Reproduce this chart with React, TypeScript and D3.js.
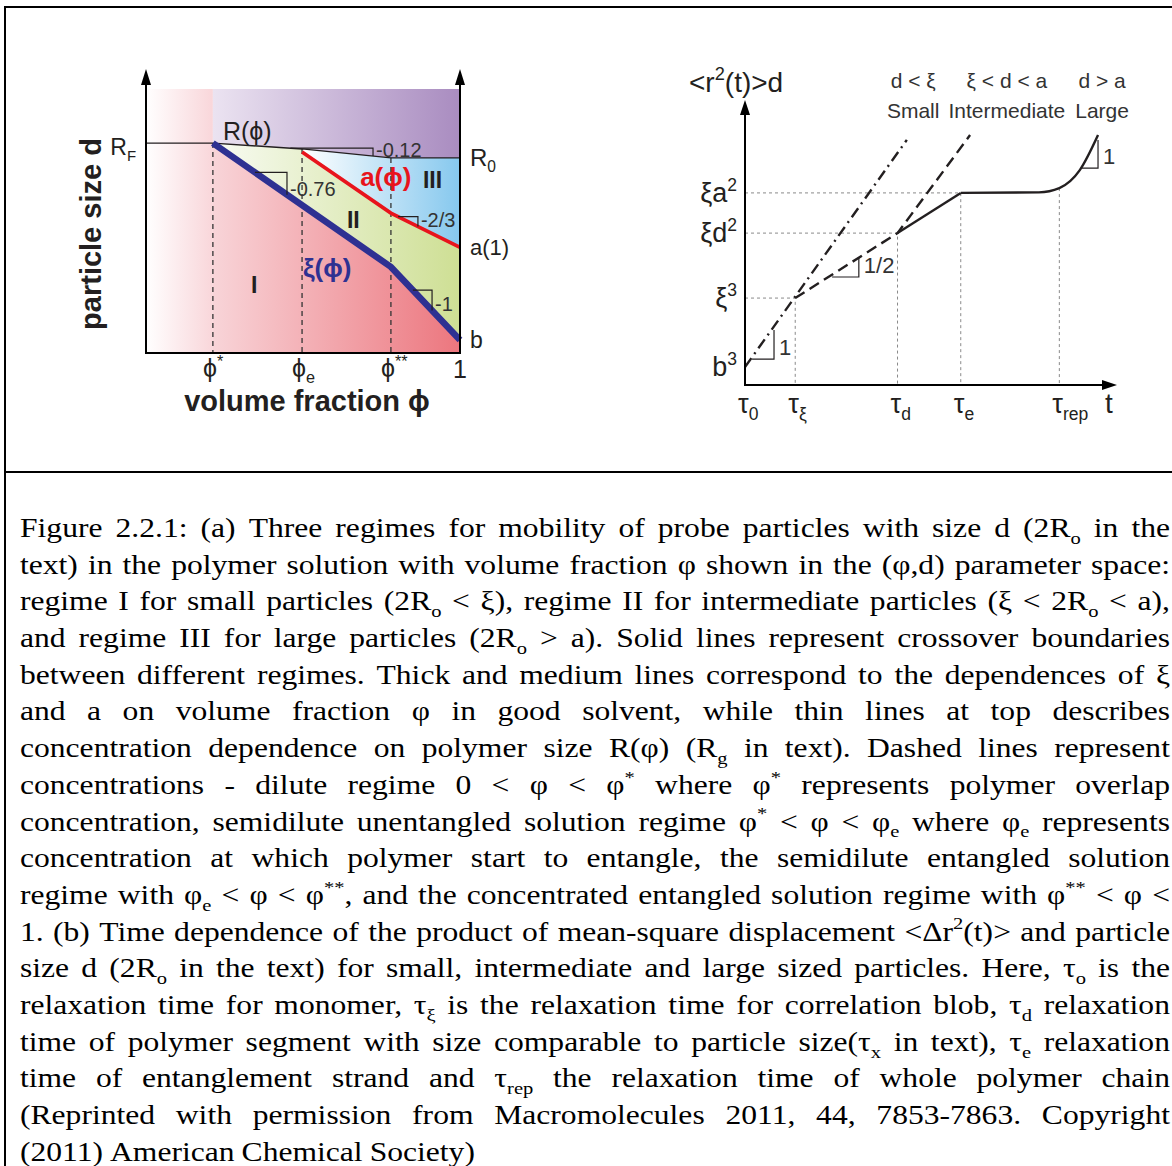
import React, { useEffect, useRef } from 'react';
import * as d3 from 'd3';

const W = 1172;
const H = 1166;

// (a) volume fraction markers (fraction of the axis)
const phiLabels = ['ϕ^{*}', 'ϕ_{e}', 'ϕ^{**}', '1'];
const phiValues = [0.213, 0.497, 0.78, 1];
// polymer size R(ϕ), particle size as fraction of axis height
const rPhi = [0, 0.213, 0.497, 0.78, 1];
const rD = [0.795, 0.795, 0.773, 0.739, 0.739];
// correlation length ξ(ϕ)
const xiPhi = [0.213, 0.78, 1];
const xiD = [0.795, 0.326, 0.049];
// tube diameter a(ϕ)
const aPhi = [0.497, 0.78, 1];
const aD = [0.761, 0.53, 0.4];
// slope markers on the lines
const slopeLine = ['R', 'xi', 'a', 'xi'];
const slopeFrom = [0.46, 0.347, 0.803, 0.85];
const slopeTo = [0.723, 0.449, 0.866, 0.911];
const slopeText = ['-0.12', '-0.76', '-2/3', '-1'];

// (b) log time / log <r2>d, schematic units
const tauLabels = ['τ_{0}', 'τ_{ξ}', 'τ_{d}', 'τ_{e}', 'τ_{rep}'];
const tauValues = [0, 1.35, 4.1, 5.8, 8.45];
const levelLabels = ['b^{3}', 'ξ^{3}', 'ξd^{2}', 'ξa^{2}'];
const levelValues = [0.63, 3.05, 5.33, 6.74];
const smallT = [0, 4.35];
const smallY = [0.63, 8.6];
const interT = [1.35, 4.1, 6.05];
const interY = [3.05, 5.33, 8.77];
const largeT = [4.1, 5.8];
const largeY = [5.33, 6.74];
const lateT = [5.8, 7.9, 8.45, 9.0, 9.49];
const lateY = [6.74, 6.76, 6.91, 7.54, 8.77];
const guideLevel = [3.05, 5.33, 6.74, 6.91];
const regimeTop = ['d < ξ', 'ξ < d < a', 'd > a'];
const regimeName = ['Small', 'Intermediate', 'Large'];
const regimeT = [4.52, 7.04, 9.6];
const triT0 = [0.19, 2.34, 9.06];
const triT1 = [0.78, 3.06, 9.49];
const triY0 = [0.91, 3.79, 7.61];
const triY1 = [1.93, 4.46, 8.6];
const triText = ['1', '1/2', '1'];

const captionLines = [
  'Figure 2.2.1: (a) Three regimes for mobility of probe particles with size d (2R_{o} in the',
  'text) in the polymer solution with volume fraction φ shown in the (φ,d) parameter space:',
  'regime I for small particles (2R_{o} < ξ), regime II for intermediate particles (ξ < 2R_{o} < a),',
  'and regime III for large particles (2R_{o} > a). Solid lines represent crossover boundaries',
  'between different regimes. Thick and medium lines correspond to the dependences of ξ',
  'and a on volume fraction φ in good solvent, while thin lines at top describes',
  'concentration dependence on polymer size R(φ) (R_{g} in text). Dashed lines represent',
  'concentrations - dilute regime 0 < φ < φ^{*} where φ^{*} represents polymer overlap',
  'concentration, semidilute unentangled solution regime φ^{*} < φ < φ_{e} where φ_{e} represents',
  'concentration at which polymer start to entangle, the semidilute entangled solution',
  'regime with φ_{e} < φ < φ^{**}, and the concentrated entangled solution regime with φ^{**} < φ <',
  '1. (b) Time dependence of the product of mean-square displacement <Δr^{2}(t)> and particle',
  'size d (2R_{o} in the text) for small, intermediate and large sized particles. Here, τ_{o} is the',
  'relaxation time for monomer, τ_{ξ} is the relaxation time for correlation blob, τ_{d} relaxation',
  'time of polymer segment with size comparable to particle size(τ_{x} in text), τ_{e} relaxation',
  'time of entanglement strand and τ_{rep} the relaxation time of whole polymer chain',
  '(Reprinted with permission from Macromolecules 2011, 44, 7853-7863. Copyright',
  '(2011) American Chemical Society)',
];

// text with _{sub} and ^{sup} parts
function rich(text: any, str: string, size: number) {
  const re = /([_^])\{([^}]*)\}/g;
  const parts: { t: string; k: number }[] = [];
  let last = 0;
  let m: RegExpExecArray | null;
  while ((m = re.exec(str)) !== null) {
    if (m.index > last) parts.push({ t: str.slice(last, m.index), k: 0 });
    parts.push({ t: m[2], k: m[1] === '_' ? 1 : -1 });
    last = re.lastIndex;
  }
  if (last < str.length) parts.push({ t: str.slice(last), k: 0 });
  let shift = 0;
  parts.forEach(p => {
    const target = p.k === 1 ? size * 0.25 : p.k === -1 ? -size * 0.42 : 0;
    const ts = text.append('tspan').attr('dy', target - shift).text(p.t);
    if (p.k !== 0) ts.attr('font-size', size * 0.65);
    shift = target;
  });
  return text;
}

function label(g: any, x: number, y: number, str: string, size: number, opts: any = {}) {
  const t = g.append('text')
    .attr('x', x)
    .attr('y', y)
    .attr('font-size', size)
    .attr('text-anchor', opts.anchor || 'start')
    .attr('fill', opts.fill || '#231f20');
  if (opts.bold) t.attr('font-weight', 'bold');
  return rich(t, str, size);
}

const zip = (xs: number[], ys: number[]) => xs.map((x, i) => [x, ys[i]] as [number, number]);

const App = () => {
  const svgRef = useRef<SVGSVGElement>(null);

  useEffect(() => {
    const svg = d3.select(svgRef.current);
    svg.selectAll('*').remove();
    const defs = svg.append('defs');

    // frame
    svg.append('path')
      .attr('d', `M5,${H}V7H${W}M5,472H${W}`)
      .attr('fill', 'none')
      .attr('stroke', '#000')
      .attr('stroke-width', 2);

    const grad = (id: string, x1: number, x2: number, c1: string, c2: string) => {
      const lg = defs.append('linearGradient')
        .attr('id', id)
        .attr('gradientUnits', 'userSpaceOnUse')
        .attr('x1', x1).attr('x2', x2).attr('y1', 0).attr('y2', 0);
      lg.append('stop').attr('offset', 0).attr('stop-color', c1);
      lg.append('stop').attr('offset', 1).attr('stop-color', c2);
    };

    // ---------- panel (a) ----------
    const ga = svg.append('g').attr('font-family', '"Liberation Sans", Arial, sans-serif');
    const xa = d3.scaleLinear().domain([0, 1]).range([146, 460]);
    const ya = d3.scaleLinear().domain([0, 1]).range([353, 89]);
    const rAt = d3.scaleLinear().domain(rPhi).range(rD);
    const xiAt = d3.scaleLinear().domain(xiPhi).range(xiD);
    const aAt = d3.scaleLinear().domain(aPhi).range(aD);
    const lineA = d3.line<[number, number]>().x(p => xa(p[0])).y(p => ya(p[1]));
    const rPts = zip(rPhi, rD);
    const xiPts = zip(xiPhi, xiD);
    const aPts = zip(aPhi, aD);
    const phiStar = xiPhi[0];
    const phiE = aPhi[0];

    grad('gLeft', xa(0), xa(phiStar), '#ffffff', '#f9d6da');
    grad('gTop', xa(phiStar), xa(1), '#ebe3f1', '#a98cc0');
    grad('gI', xa(phiStar), xa(1), '#f8d4d8', '#ec767e');
    grad('gII', xa(phiStar), xa(1), '#f8fbf3', '#cedf94');
    grad('gIII', xa(phiE), xa(1), '#ffffff', '#86c8ee');

    ga.append('rect')
      .attr('x', xa(0)).attr('y', ya(1))
      .attr('width', xa(phiStar) - xa(0)).attr('height', ya(0) - ya(1))
      .attr('fill', 'url(#gLeft)');

    const topPoly = [...rPts.filter(p => p[0] >= phiStar), [1, 1], [phiStar, 1]] as [number, number][];
    const iPoly = [...xiPts, [1, 0], [phiStar, 0]] as [number, number][];
    const iiPoly = [
      ...xiPts,
      ...aPts.slice().reverse(),
      ...rPts.filter(p => p[0] >= phiStar && p[0] <= phiE).reverse(),
    ];
    const iiiPoly = [...aPts, ...rPts.filter(p => p[0] >= phiE).reverse()];
    [[topPoly, 'gTop'], [iPoly, 'gI'], [iiPoly, 'gII'], [iiiPoly, 'gIII']].forEach(([poly, id]: any) => {
      ga.append('path').attr('d', lineA(poly) + 'Z').attr('fill', `url(#${id})`);
    });

    // dashed concentration markers
    phiValues.slice(0, 3).forEach(v => {
      ga.append('line')
        .attr('x1', xa(v)).attr('x2', xa(v))
        .attr('y1', ya(rAt(v))).attr('y2', ya(0))
        .attr('stroke', '#333').attr('stroke-width', 1.3)
        .attr('stroke-dasharray', '5,4');
    });

    ga.append('path').attr('d', lineA(rPts)).attr('fill', 'none')
      .attr('stroke', '#231f20').attr('stroke-width', 1.4);
    ga.append('path').attr('d', lineA(aPts)).attr('fill', 'none')
      .attr('stroke', '#e8141c').attr('stroke-width', 3.6);
    ga.append('path').attr('d', lineA(xiPts)).attr('fill', 'none')
      .attr('stroke', '#2e3192').attr('stroke-width', 6.5);

    slopeLine.forEach((ln, i) => {
      const f = ln === 'R' ? rAt : ln === 'xi' ? xiAt : aAt;
      const x0 = xa(slopeFrom[i]);
      const x1 = xa(slopeTo[i]);
      const y0 = ya(f(slopeFrom[i]));
      const y1 = ya(f(slopeTo[i]));
      ga.append('path').attr('d', `M${x0},${y0}H${x1}V${y1}`)
        .attr('fill', 'none').attr('stroke', '#231f20').attr('stroke-width', 1.2);
      label(ga, x1 + 3, y1 + 1, slopeText[i], 20, { fill: '#333' });
    });

    // axes
    ga.append('path')
      .attr('d', `M${xa(0)},82V${ya(0)}H${xa(1)}V82`)
      .attr('fill', 'none').attr('stroke', '#000').attr('stroke-width', 2);
    [xa(0), xa(1)].forEach(x => {
      ga.append('path').attr('d', `M${x - 5},85L${x},69L${x + 5},85Z`).attr('fill', '#000');
    });

    phiLabels.forEach((s, i) => {
      if (s === '1') label(ga, xa(phiValues[i]), 378, s, 25, { anchor: 'middle' });
      else label(ga, xa(phiValues[i]) - 10, 377, s, 25);
    });
    label(ga, 307, 411, 'volume fraction ϕ', 29, { anchor: 'middle', bold: true });
    ga.append('text')
      .attr('transform', 'translate(101,234) rotate(-90)')
      .attr('text-anchor', 'middle').attr('font-size', 29).attr('font-weight', 'bold')
      .attr('fill', '#231f20').text('particle size d');

    label(ga, xa(0) - 10, ya(rD[0]) + 12, 'R_{F}', 23, { anchor: 'end' });
    label(ga, xa(1) + 10, ya(rD[rD.length - 1]) + 8, 'R_{0}', 24);
    label(ga, xa(1) + 10, ya(aD[aD.length - 1]) + 8, 'a(1)', 22);
    label(ga, xa(1) + 10, ya(xiD[xiD.length - 1]) + 8, 'b', 23);
    label(ga, xa(0.245), ya(0.807), 'R(ϕ)', 25);
    label(ga, xa(0.682), ya(0.633), 'a(ϕ)', 26, { bold: true, fill: '#e8141c' });
    label(ga, xa(0.882), ya(0.625), 'III', 23, { bold: true });
    label(ga, xa(0.64), ya(0.473), 'II', 23, { bold: true });
    label(ga, xa(0.5), ya(0.288), 'ξ(ϕ)', 26, { bold: true, fill: '#2e3192' });
    label(ga, xa(0.334), ya(0.227), 'I', 23, { bold: true });

    // ---------- panel (b) ----------
    const gb = svg.append('g').attr('font-family', '"Liberation Sans", Arial, sans-serif');
    const xb = d3.scaleLinear().domain([0, 10]).range([745, 1117]);
    const yb = d3.scaleLinear().domain([0, 10]).range([385, 100]);
    const lineB = d3.line<[number, number]>().x(p => xb(p[0])).y(p => yb(p[1]));

    // guide lines
    tauValues.slice(1).forEach((t, i) => {
      const lv = guideLevel[i];
      const d = i < 3 ? `M${xb(0)},${yb(lv)}H${xb(t)}V${yb(0)}` : `M${xb(t)},${yb(lv)}V${yb(0)}`;
      gb.append('path').attr('d', d).attr('fill', 'none')
        .attr('stroke', '#8a8a8a').attr('stroke-width', 1).attr('stroke-dasharray', '3,3');
    });

    gb.append('path').attr('d', lineB(zip(smallT, smallY))).attr('fill', 'none')
      .attr('stroke', '#231f20').attr('stroke-width', 2.4).attr('stroke-dasharray', '11,5,2,5');
    gb.append('path').attr('d', lineB(zip(interT, interY))).attr('fill', 'none')
      .attr('stroke', '#231f20').attr('stroke-width', 2.4).attr('stroke-dasharray', '11,6');
    gb.append('path').attr('d', lineB(zip(largeT, largeY))).attr('fill', 'none')
      .attr('stroke', '#231f20').attr('stroke-width', 2.4);
    gb.append('path').attr('d', lineB.curve(d3.curveMonotoneX)(zip(lateT, lateY))).attr('fill', 'none')
      .attr('stroke', '#231f20').attr('stroke-width', 2.4);

    triText.forEach((s, i) => {
      const x0 = xb(triT0[i]);
      const x1 = xb(triT1[i]);
      const y0 = yb(triY0[i]);
      const y1 = yb(triY1[i]);
      gb.append('path').attr('d', `M${x0},${y0}H${x1}V${y1}`)
        .attr('fill', 'none').attr('stroke', '#231f20').attr('stroke-width', 1.2);
      label(gb, x1 + 5, y0 - 4, s, 22, { fill: '#333' });
    });

    gb.append('path')
      .attr('d', `M${xb(0)},112V${yb(0)}H1104`)
      .attr('fill', 'none').attr('stroke', '#000').attr('stroke-width', 2);
    gb.append('path').attr('d', `M740,115L745,100L750,115Z`).attr('fill', '#000');
    gb.append('path').attr('d', `M1102,380L1117,385L1102,390Z`).attr('fill', '#000');

    tauLabels.forEach((s, i) => label(gb, xb(tauValues[i]) - 7, 413, s, 27));
    label(gb, 1105, 413, 't', 28);
    levelLabels.forEach((s, i) => label(gb, 737, yb(levelValues[i]) + 9, s, 27, { anchor: 'end' }));
    label(gb, 689, 92, '<r^{2}(t)>d', 28);
    regimeTop.forEach((s, i) => {
      label(gb, xb(regimeT[i]), 88, s, 21, { anchor: 'middle', fill: '#333' });
      label(gb, xb(regimeT[i]), 118, regimeName[i], 21, { anchor: 'middle', fill: '#333' });
    });

    // ---------- caption (justified, glyphs stretched like the scan) ----------
    const cap = svg.append('g')
      .attr('font-family', '"Liberation Serif", "Times New Roman", serif')
      .attr('fill', '#000');
    const capSize = 27;
    const left = 20;
    const right = 1170;
    const avail = right - left;
    captionLines.forEach((ln, i) => {
      const y = 537 + i * 36.7;
      const words = ln.split(' ');
      const row = cap.append('g');
      const nodes = words.map(w => rich(row.append('text').attr('y', y).attr('font-size', capSize), w, capSize));
      const widths = nodes.map(n => (n.node() as SVGTextElement).getComputedTextLength());
      const total = d3.sum(widths);
      const isLast = i === captionLines.length - 1;
      const minGap = 7;
      const sx = Math.min(1.17, (avail - minGap * (words.length - 1)) / total);
      const gap = isLast ? minGap : (avail - total * sx) / (words.length - 1);
      row.attr('transform', `translate(${left},0) scale(${sx},1)`);
      let x = 0;
      nodes.forEach((n, j) => {
        n.attr('x', x);
        x += widths[j] + gap / sx;
      });
    });
  }, []);

  return (
    <svg
      ref={svgRef}
      width={W}
      height={H}
      viewBox={`0 0 ${W} ${H}`}
      style={{ position: 'absolute', left: 0, top: 0, background: '#fff' }}
    />
  );
};

export default App;
